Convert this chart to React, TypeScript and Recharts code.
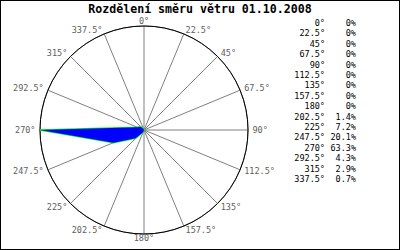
import React from 'react';
import { RadarChart, Radar, PolarGrid, PolarAngleAxis, PolarRadiusAxis } from 'recharts';

const title = 'Rozdělení směru větru 01.10.2008';
const directions = ['0°', '22.5°', '45°', '67.5°', '90°', '112.5°', '135°', '157.5°', '180°', '202.5°', '225°', '247.5°', '270°', '292.5°', '315°', '337.5°'];
const directionAngles = [0, 22.5, 45, 67.5, 90, 112.5, 135, 157.5, 180, 202.5, 225, 247.5, 270, 292.5, 315, 337.5];
const percents = [0, 0, 0, 0, 0, 0, 0, 0, 0, 1.4, 7.2, 20.1, 63.3, 4.3, 2.9, 0.7];
const percentLabels = ['0%', '0%', '0%', '0%', '0%', '0%', '0%', '0%', '0%', '1.4%', '7.2%', '20.1%', '63.3%', '4.3%', '2.9%', '0.7%'];

const data = directions.map((d, i) => ({ dir: d, value: percents[i] }));

const CX = 144;
const CY = 130;
const R = 104;
const MONO = '"DejaVu Sans Mono", "Liberation Mono", monospace';

const AngleTick = (props: any) => {
  const label = props.payload?.value as string;
  const idx = directions.indexOf(label);
  const theta = (directionAngles[idx] * Math.PI) / 180;
  const s = Math.sin(theta);
  const c = Math.cos(theta);
  const d = 4.5;
  const x = CX + (R + d) * s;
  const y = CY - (R + d) * c;
  const anchor = Math.abs(s) < 0.1 ? 'middle' : s > 0 ? 'start' : 'end';
  return (
    <text x={x} y={y} dy="0.35em" textAnchor={anchor} fontFamily={MONO} fontSize={8.5} fill="#606060">
      {label}
    </text>
  );
};

export default function App() {
  return (
    <div style={{ position: 'absolute', left: 0, top: 0, width: 400, height: 250, background: '#fff' }}>
      <RadarChart width={400} height={250} cx={CX} cy={CY} outerRadius={R} data={data} margin={{ top: 0, right: 0, bottom: 0, left: 0 }}>
        <PolarGrid gridType="circle" polarRadius={[R]} stroke="#808080" strokeWidth={1} />
        <PolarGrid gridType="circle" polarRadius={[R]} radialLines={false} stroke="#000000" strokeWidth={1} />
        <PolarRadiusAxis domain={[0, 63.3]} type="number" tick={false} axisLine={false} />
        <PolarAngleAxis dataKey="dir" tick={<AngleTick />} tickLine={false} axisLine={false} />
        <Radar dataKey="value" stroke="#00ff00" strokeWidth={1.5} fill="none" fillOpacity={0} dot={false} isAnimationActive={false} />
        <Radar dataKey="value" stroke="none" fill="#0000ff" fillOpacity={1} dot={false} isAnimationActive={false} />
      </RadarChart>
      <svg width={400} height={250} style={{ position: 'absolute', left: 0, top: 0, pointerEvents: 'none' }}>
        <rect x={0.5} y={0.5} width={399} height={249} fill="none" stroke="#000" strokeWidth={1} />
        <text x={200} y={13} textAnchor="middle" fontFamily={MONO} fontWeight="bold" fontSize={11.6} fill="#000">
          {title}
        </text>
        {directions.map((d, i) => (
          <g key={d}>
            <text x={325} y={26 + i * 10.4} textAnchor="end" fontFamily={MONO} fontSize={8.5} fill="#000">
              {d}
            </text>
            <text x={356} y={26 + i * 10.4} textAnchor="end" fontFamily={MONO} fontSize={8.5} fill="#000">
              {percentLabels[i]}
            </text>
          </g>
        ))}
      </svg>
    </div>
  );
}
